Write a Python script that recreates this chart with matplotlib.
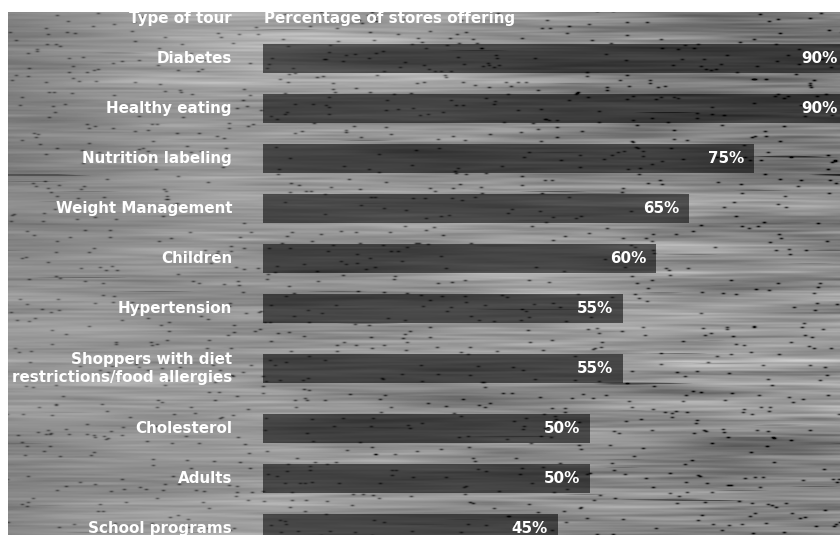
import matplotlib.pyplot as plt
import numpy as np

# tour types and share of stores offering them
tours = ['Diabetes', 'Healthy eating', 'Nutrition labeling', 'Weight Management',
         'Children', 'Hypertension', 'Shoppers with diet\nrestrictions/food allergies',
         'Cholesterol', 'Adults', 'School programs']
pct = [90, 90, 75, 65, 60, 55, 55, 50, 50, 45]

W_PX, H_PX = 840, 535
XMAX = 88.1


def blur(a, sy, sx):
    # gaussian blur in fourier space
    ky = np.fft.fftfreq(a.shape[0])[:, None]
    kx = np.fft.fftfreq(a.shape[1])[None, :]
    g = np.exp(-2 * np.pi ** 2 * ((ky * sy) ** 2 + (kx * sx) ** 2))
    return np.real(np.fft.ifft2(np.fft.fft2(a) * g))


def norm(a):
    return (a - a.mean()) / a.std()


# wood grain backdrop, a little softer towards the left
rng = np.random.default_rng(11)
H, W = 523, 832
fine = norm(blur(rng.normal(size=(H, W)), 0.8, 25))
band = norm(blur(rng.normal(size=(H, W)), 4, 60))
haze = norm(blur(rng.normal(size=(H, W)), 50, 110))
streak = norm(blur(rng.normal(size=(H, W)), 0.7, 35))
specks = blur((rng.random((H, W)) < 0.003).astype(float), 0.6, 1.4)
specks /= specks.max()
w = (0.5 + 0.5 * np.linspace(0, 1, W))[None, :]
wood = (0.57 + 0.04 * fine * w + 0.045 * band * w + 0.04 * haze
        - 0.3 * np.clip(streak - 2.3, 0, 1) * w - 0.8 * specks * w)
wood = np.clip(wood, 0, 1)

fig = plt.figure(figsize=(W_PX / 100, H_PX / 100), dpi=100)
fig.patch.set_facecolor('white')
bg = fig.add_axes([8 / W_PX, 0, W / W_PX, H / H_PX])
bg.imshow(wood, cmap='gray', vmin=0, vmax=1, aspect='auto', interpolation='bilinear')
bg.axis('off')

ax = fig.add_axes([263 / W_PX, 0, 577 / W_PX, 1])
ax.patch.set_alpha(0)
ax.axis('off')
ax.set_xlim(0, XMAX)
ax.set_ylim(H_PX, 0)

# row centres in pixels, two-line labels get extra room
ys = []
y = 58.5
for i, t in enumerate(tours):
    if i > 0:
        y += 25 + 10 * t.count('\n') + 25 + 10 * tours[i - 1].count('\n')
    ys.append(y)

ax.barh(ys, pct, height=29, color='black', alpha=0.55, linewidth=0)

font = dict(family='DejaVu Sans', weight='bold', color='white', fontsize=10.9)
lab_x = (232 - 263) / 577
tr = ax.get_yaxis_transform()
for yy, t, v in zip(ys, tours, pct):
    ax.text(lab_x, yy, t, transform=tr, ha='right', va='center',
            linespacing=1.2, **font)
    ax.text(min(v - 1.5, XMAX - 0.3), yy, f'{v}%', ha='right', va='center', **font)

ax.text(lab_x, 19, 'Type of tour', transform=tr, ha='right', va='center', **font)
ax.text(0.002, 19, 'Percentage of stores offering', transform=tr, ha='left',
        va='center', **font)

fig.savefig('out.png', dpi=100)
